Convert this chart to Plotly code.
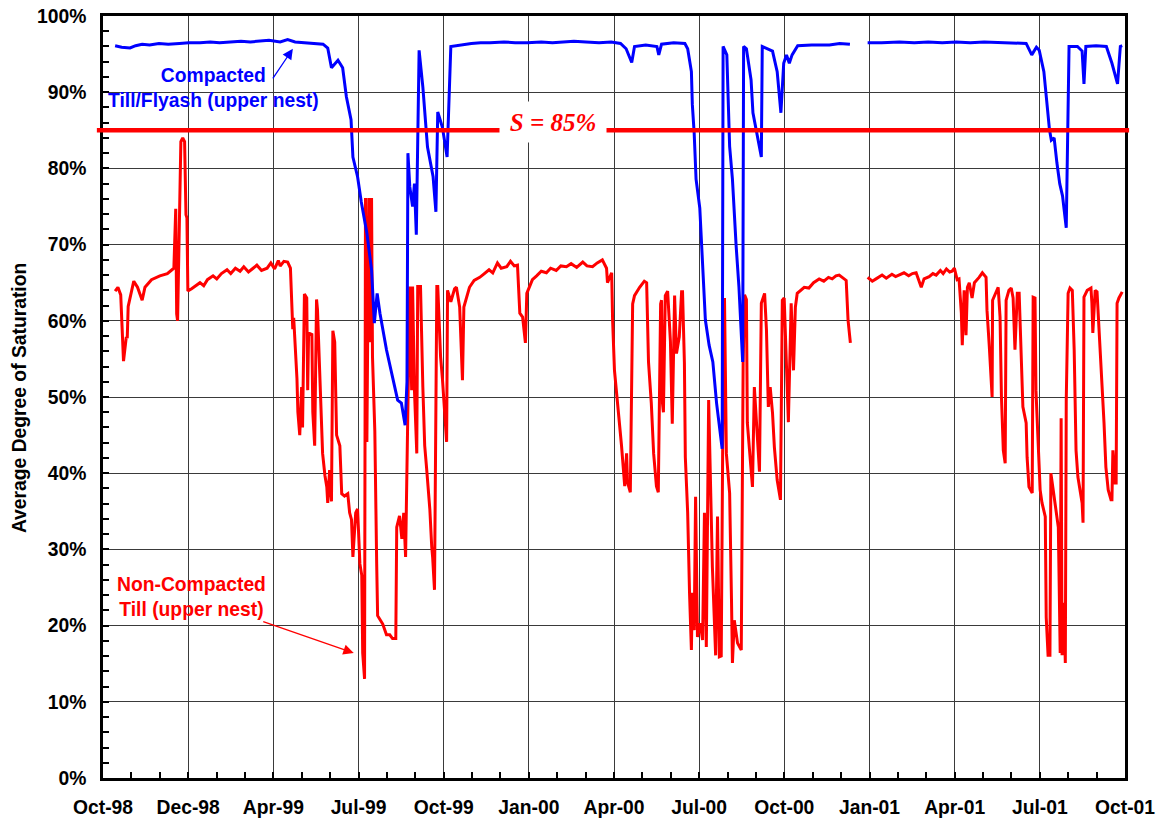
import pandas as pd
import plotly.graph_objects as go

START = pd.Timestamp("1998-10-01")
END = pd.Timestamp("2001-10-01")

tick_labels = ["Oct-98", "Dec-98", "Apr-99", "Jul-99", "Oct-99", "Jan-00", "Apr-00",
               "Jul-00", "Oct-00", "Jan-01", "Apr-01", "Jul-01", "Oct-01"]

# Compacted Till/Flyash (upper nest) - days since 1 Oct 1998, saturation %
blue_day = [13, 20, 29, 35, 42, 50, 60, 70, 82, 92, 104, 115, 125, 136, 148, 158, 168, 178, 190, 198,
            206, 216, 226, 236, 241, 245, 252, 257, 261, 266, 268, 273, 277, 283, 288, 291, 294, 297,
            304, 311, 316, 320, 324, 326, 327, 329, 332, 334, 336, 339, 343, 348, 354, 357, 359, 364,
            369, 373, 382, 395, 405, 415, 430, 442, 455, 470, 482, 490, 505, 518, 532, 545, 555, 561,
            567, 570, 582, 594, 596, 599, 612, 624, 627, 631, 632, 634, 636, 640, 642, 644, 646, 650,
            654, 658, 661, 664, 665, 669, 672, 675, 679, 682, 686, 687, 690, 695, 697, 701, 704, 706,
            707, 718, 723, 727, 730, 733, 736, 739, 745, 760, 779, 790, 801,
            810,
            820, 835, 854, 870, 885, 900, 915, 930, 945, 961, 975, 990, 996, 1001, 1004, 1009, 1012,
            1015, 1017, 1020, 1023, 1026, 1029, 1033, 1036, 1045, 1050, 1052, 1054, 1065, 1076, 1082,
            1088, 1091, 1093]
blue_pct = [96.1, 95.9, 95.8, 96.1, 96.3, 96.2, 96.4, 96.3, 96.4, 96.5, 96.5, 96.6, 96.5, 96.6, 96.7,
            96.6, 96.7, 96.8, 96.6, 96.9, 96.6, 96.5, 96.4, 96.3, 95.8, 93.2, 94.2, 93.2, 89.4, 86.4,
            81.5, 78.9, 75.6, 71.5, 66.7, 59.7, 63.6, 61.0, 56.2, 52.2, 49.6, 49.2, 46.3, 52.0, 82.0,
            77.6, 75.0, 78.0, 71.3, 95.5, 90.7, 82.8, 78.9, 74.3, 87.4, 85.4, 81.5, 96.0, 96.2, 96.4,
            96.5, 96.5, 96.6, 96.5, 96.5, 96.6, 96.5, 96.6, 96.7, 96.6, 96.5, 96.6, 96.4, 95.7, 93.9,
            96.0, 96.2, 96.0, 94.9, 96.3, 96.5, 96.4, 95.7, 92.7, 88.4, 84.6, 78.6, 74.8, 69.8, 66.5,
            60.1, 56.8, 54.6, 49.2, 45.9, 43.2, 96.0, 94.9, 82.9, 78.6, 69.8, 64.4, 54.6, 96.0, 95.7,
            91.6, 87.3, 84.5, 82.9, 81.5, 96.0, 95.4, 92.7, 87.3, 93.8, 94.9, 93.8, 94.9, 96.1, 96.2,
            96.2, 96.4, 96.3,
            None,
            96.5, 96.5, 96.6, 96.5, 96.6, 96.5, 96.6, 96.5, 96.6, 96.5, 96.5, 96.4, 94.9, 95.9, 95.5,
            92.7, 88.9, 85.1, 83.7, 84.0, 80.7, 78.0, 76.4, 72.2, 96.0, 96.0, 95.4, 91.1, 96.0, 96.1,
            96.0, 93.8, 91.1, 96.0, 96.1]

# Non-Compacted Till (upper nest)
red_day = [13, 16, 19, 21, 22, 25, 26, 27, 31, 33, 37, 42, 45, 52, 61, 69, 74, 76, 78, 79, 80, 81,
           83.5, 85.5, 87.5, 89, 90, 91, 95, 104, 108, 112, 118, 122, 127, 133, 137, 142, 147, 151,
           156, 161, 165, 170, 176, 180, 184, 188, 190, 194, 198, 201, 203.5, 204.5, 208, 209, 211,
           213, 214, 216, 218.5, 219.5, 220.5, 224, 225, 227, 229, 230, 232.5, 234.5, 235.5, 238, 240,
           241, 243, 245, 246.5, 248.5, 250.5, 254, 256, 259, 262.5, 264.5, 266.5, 268, 271, 273,
           275.5, 277.5, 278.5, 280.5, 281.5, 283, 285, 286, 288, 289, 291.5, 293.5, 294.5, 297, 300,
           304, 307.5, 310.5, 314, 315, 318, 320.5, 322.5, 324.5, 326.5, 329, 331, 332, 334, 336.5,
           337.5, 340.5, 343, 345, 347, 350.5, 352.5, 353.5, 355.5, 358, 359, 362, 364, 368.5, 369.5,
           373, 377, 379, 382.5, 385.5, 387, 393, 398, 404, 408, 414, 418, 423, 427, 433, 437, 441,
           444.5, 447, 450, 453, 454.5, 460.5, 465, 470, 475.5, 480, 486, 491, 497, 502, 508, 514.5,
           519, 525, 530, 535.5, 540, 541, 545.5, 546.5, 548.5, 552, 556, 559.5, 561.5, 562.5, 565.5,
           568, 570, 575.5, 580.5, 583, 585, 588, 590.5, 593.5, 595.5, 598, 599, 600, 601, 603,
           605.5, 608.5, 610.5, 613, 615, 618, 620.5, 621.5, 623.5, 624.5, 627, 629, 631, 632, 634,
           635.5, 637.5, 640.5, 643, 645, 647, 649.5, 652.5, 653.5, 657, 659, 661, 663, 664.5, 666.5,
           668.5, 672, 674, 675, 677, 680.5, 684.5, 685.5, 686.5, 688, 690, 691, 693, 695.5, 696.5,
           698.5, 700.5, 704, 706, 709.5, 711.5, 713.5, 715.5, 718, 720, 723, 726.5, 728.5, 730.5,
           733, 735, 738, 740.5, 742.5, 744.5, 752, 757, 762, 768, 773, 778, 782, 786, 789.5, 794,
           797, 799, 801.5,
           810,
           820, 825, 829, 835.5, 840, 846, 850, 854, 859, 864, 868, 872, 875, 877.5, 880.5, 886, 890,
           893.5, 898, 901, 904.5, 908, 910.5, 913, 916, 918, 920.5, 921.5, 923.5, 925.5, 927, 929,
           932, 934.5, 939.5, 943, 947, 948, 950.5, 953.5, 954, 958, 960, 962, 963.5, 965.5, 967.5,
           968.5, 971.5, 974, 976, 978, 980.5, 982.5, 984.5, 986.5, 990, 991, 993, 996.5, 997.5,
           999.5, 1000.5, 1003, 1005, 1007, 1010.5, 1011.5, 1013.5, 1015.5, 1016.5, 1019, 1022,
           1024.5, 1026.5, 1027.5, 1028.5, 1030.5, 1032, 1033, 1035, 1037, 1039.5, 1041.5, 1043.5,
           1045.5, 1050, 1051, 1052, 1055.5, 1059.5, 1060.5, 1061.5, 1064, 1066, 1068, 1071.5,
           1073.5, 1075.5, 1078, 1081, 1082, 1083, 1085.5, 1086.5, 1087.5, 1089.5, 1093]
red_pct = [63.9, 64.4, 63.4, 57.9, 54.7, 57.9, 57.7, 61.9, 63.9, 65.2, 64.4, 62.7, 64.4, 65.4, 65.9,
           66.2, 66.7, 66.9, 74.7, 60.9, 60.0, 66.4, 83.5, 84.0, 83.5, 73.9, 73.5, 63.9, 64.2, 65.0,
           64.6, 65.4, 65.9, 65.5, 66.2, 66.7, 66.2, 66.9, 66.5, 67.1, 66.4, 66.9, 67.3, 66.6, 66.9,
           67.6, 66.8, 67.9, 67.2, 67.8, 67.7, 66.9, 58.9, 60.4, 52.4, 48.0, 45.0, 51.3, 46.0, 63.5,
           63.0, 50.9, 58.4, 58.2, 48.0, 43.6, 62.8, 61.5, 53.3, 45.0, 42.6, 39.7, 38.2, 36.1, 40.4,
           36.3, 58.7, 57.2, 45.0, 43.6, 37.3, 37.0, 37.3, 34.8, 33.9, 29.0, 34.8, 35.3, 28.1, 26.6,
           16.4, 13.0, 76.1, 44.1, 76.1, 57.2, 76.1, 55.3, 45.5, 28.1, 21.3, 20.8, 20.2, 18.8, 18.8,
           18.3, 18.3, 32.9, 34.4, 31.4, 34.8, 29.0, 47.5, 64.5, 50.9, 64.5, 50.9, 42.6, 64.5, 64.5,
           51.3, 43.6, 40.7, 35.3, 30.4, 29.0, 24.7, 64.5, 64.5, 55.3, 52.4, 44.1, 64.0, 62.5, 64.2,
           64.4, 61.8, 52.2, 61.8, 64.4, 65.3, 65.7, 66.1, 66.7, 66.3, 67.6, 66.9, 67.1, 67.8, 67.2,
           67.3, 61.0, 60.5, 57.1, 63.6, 65.4, 65.9, 66.5, 66.3, 66.9, 66.6, 67.2, 67.1, 67.5, 67.0,
           67.7, 67.2, 67.1, 67.6, 68.0, 66.9, 65.0, 66.3, 60.1, 53.5, 49.2, 43.7, 38.3, 42.6, 38.8,
           37.5, 62.2, 63.3, 64.4, 65.2, 65.0, 54.6, 49.2, 42.6, 38.3, 37.5, 62.2, 62.7, 49.2, 48.0,
           63.3, 63.9, 57.3, 46.5, 63.3, 55.7, 57.9, 63.8, 63.8, 54.5, 42.1, 34.8, 24.3, 16.8, 24.3,
           19.4, 36.9, 18.5, 20.3, 18.1, 34.8, 17.2, 49.6, 33.9, 27.7, 16.1, 34.3, 15.9, 16.0, 42.6,
           63.0, 42.6, 37.4, 23.4, 15.1, 20.7, 17.7, 16.8, 33.0, 54.5, 63.4, 62.8, 46.6, 43.4, 40.0,
           38.2, 51.3, 47.0, 40.2, 62.3, 63.6, 58.8, 48.7, 51.3, 47.9, 43.4, 39.1, 36.5, 62.7, 63.0,
           54.9, 46.7, 62.3, 53.5, 61.8, 63.6, 64.4, 64.3, 65.0, 65.5, 65.2, 65.7, 65.5, 65.9, 66.0,
           65.6, 65.3, 60.1, 57.1,
           None,
           65.7, 65.2, 65.5, 66.0, 65.6, 66.1, 65.8, 66.0, 66.3, 65.9, 66.2, 66.3, 65.4, 64.4, 65.5,
           65.8, 66.2, 66.0, 66.6, 66.2, 66.8, 66.4, 66.5, 66.9, 65.4, 65.5, 61.0, 56.8, 64.0, 58.1,
           64.4, 65.0, 63.0, 65.0, 65.7, 66.3, 65.7, 61.4, 56.6, 50.0, 62.7, 64.0, 64.4, 60.5, 50.0,
           43.0, 41.3, 62.7, 64.0, 64.3, 63.0, 56.2, 63.6, 63.6, 57.1, 48.7, 46.6, 42.1, 38.2, 37.4,
           63.1, 63.0, 50.9, 44.0, 37.8, 36.1, 34.3, 21.1, 16.1, 16.1, 40.0, 37.8, 35.2, 32.9, 16.4,
           47.2, 16.1, 23.0, 15.1, 49.6, 63.6, 64.3, 64.0, 56.2, 43.0, 39.5, 36.1, 33.5, 63.1, 64.0,
           64.3, 62.3, 58.4, 64.0, 63.8, 59.2, 52.6, 46.6, 40.8, 37.8, 36.5, 36.5, 43.0, 38.7, 38.7,
           62.3, 63.0, 63.8]

THRESHOLD = 85


def to_dates(days):
    return [START + pd.to_timedelta(d, unit="D") for d in days]


span_days = (END - START).days
tick_vals = [START + pd.to_timedelta(k * span_days / 12, unit="D") for k in range(13)]

FONT = "Liberation Sans, Arial, sans-serif"
FS = 19.3

fig = go.Figure()
fig.add_trace(go.Scatter(x=to_dates(red_day), y=red_pct, mode="lines",
                         line=dict(color="#FF0000", width=3), name="Non-Compacted Till (upper nest)"))
fig.add_trace(go.Scatter(x=to_dates(blue_day), y=blue_pct, mode="lines",
                         line=dict(color="#0000FF", width=3), name="Compacted Till/Flyash (upper nest)"))

fig.add_shape(type="line", xref="paper", yref="y", x0=-0.006, x1=1.004, y0=THRESHOLD, y1=THRESHOLD,
              line=dict(color="#FF0000", width=4.5), layer="above")

fig.add_annotation(xref="paper", yref="y", x=0.4404, y=86.1, text="<i>S = 85%</i>",
                   showarrow=False, bgcolor="white", width=104, height=38, borderpad=1,
                   xanchor="center", yanchor="middle",
                   font=dict(family="Liberation Serif, Times New Roman, serif", size=25,
                             color="#FF0000", weight="bold"))

fig.add_annotation(x=START + pd.to_timedelta(119, unit="D"), y=90.5,
                   text="Compacted<br>Till/Flyash (upper nest)", showarrow=False,
                   xanchor="center", yanchor="middle",
                   font=dict(family=FONT, size=FS, color="#0000FF", weight="bold"))
fig.add_annotation(x=START + pd.to_timedelta(203.6, unit="D"), y=95.7, text="", showarrow=True,
                   ax=-21, ay=31, arrowcolor="#0000FF", arrowwidth=1.3, arrowhead=2, arrowsize=1.6)

fig.add_annotation(x=START + pd.to_timedelta(95.4, unit="D"), y=23.7,
                   text="Non-Compacted<br>Till (upper nest)", showarrow=False,
                   xanchor="center", yanchor="middle",
                   font=dict(family=FONT, size=FS, color="#FF0000", weight="bold"))
fig.add_annotation(x=START + pd.to_timedelta(268.9, unit="D"), y=16.4, text="", showarrow=True,
                   ax=-92, ay=-32, arrowcolor="#FF0000", arrowwidth=1.3, arrowhead=2, arrowsize=1.6)

fig.add_annotation(xref="paper", yref="paper", x=-0.0811, y=0.4987, textangle=-90,
                   xanchor="center", yanchor="middle",
                   text="Average Degree of Saturation", showarrow=False,
                   font=dict(family=FONT, size=FS, color="black", weight="bold"))

fig.update_layout(
    width=1157, height=820,
    margin=dict(l=103, r=32, t=16, b=42, autoexpand=False),
    paper_bgcolor="white", plot_bgcolor="white",
    showlegend=False,
    font=dict(family=FONT, color="black"),
    xaxis=dict(
        type="date", range=[START, END], automargin=False,
        tickmode="array", tickvals=tick_vals, ticktext=tick_labels,
        tickfont=dict(family=FONT, size=FS, color="black", weight="bold"),
        ticks="inside", ticklen=6, tickwidth=1.5, tickcolor="black",
        ticklabelstandoff=10,
        showgrid=True, gridcolor="#3a3a3a", gridwidth=1,
        showline=True, linecolor="black", linewidth=2.5, mirror=True,
        zeroline=False,
        minor=dict(tick0=START, dtick=span_days / 36 * 86400000, ticks="inside", ticklen=6,
                   tickwidth=1.5, tickcolor="black", showgrid=False),
    ),
    yaxis=dict(
        range=[0, 100], tickmode="linear", tick0=0, dtick=10, ticksuffix="%", automargin=False,
        tickfont=dict(family=FONT, size=FS, color="black", weight="bold"),
        ticks="inside", ticklen=6, tickwidth=1.5, tickcolor="black",
        ticklabelstandoff=10,
        showgrid=True, gridcolor="#3a3a3a", gridwidth=1,
        showline=True, linecolor="black", linewidth=2.5, mirror=True,
        zeroline=False,
        minor=dict(dtick=2, ticks="inside", ticklen=6, tickwidth=1.5, tickcolor="black",
                   showgrid=False),
    ),
)

fig.write_html("out.html", config={"displayModeBar": False},
               post_script="document.body.style.margin='0';document.body.style.overflow='hidden';")
